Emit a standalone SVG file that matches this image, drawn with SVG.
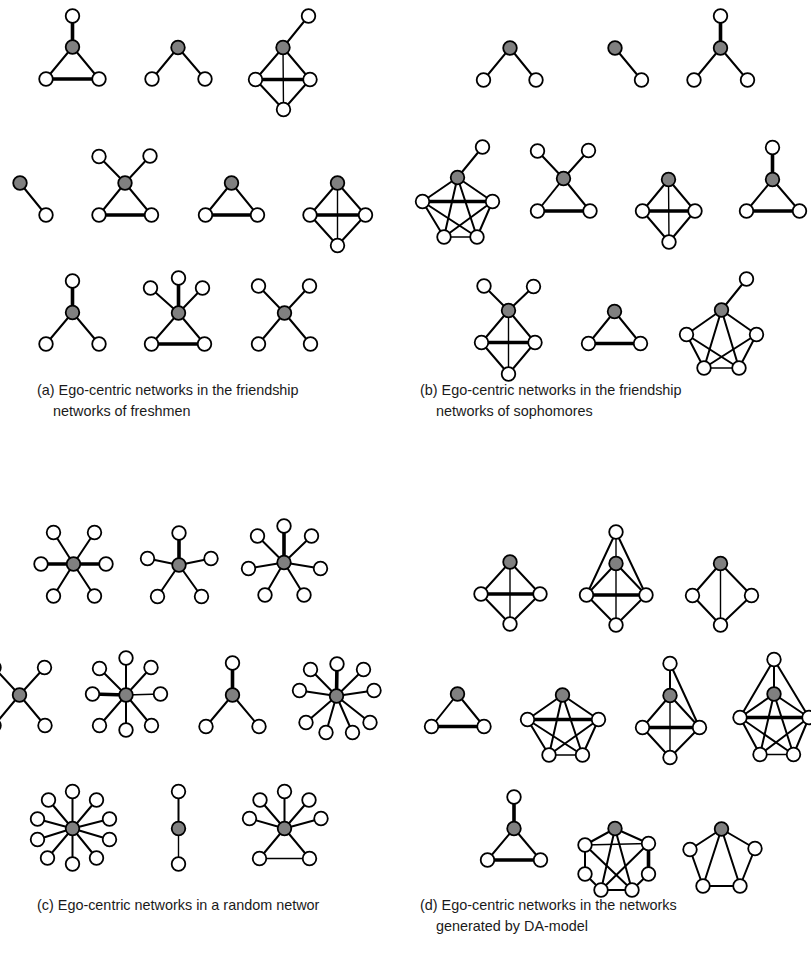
<svg xmlns="http://www.w3.org/2000/svg" width="811" height="962" viewBox="0 0 811 962">
<style>
#connectors line{stroke:#000;stroke-width:2;stroke-linecap:round}
#connectors line.k{stroke-width:3.6}
#connectors line.t{stroke-width:1.4}
circle{r:6.8;stroke:#000;stroke-width:1.8;fill:#fff}
circle.e{fill:#808080}
text{font-family:"Liberation Sans",Arial,sans-serif;font-size:14.4px;fill:#1a1a1a}
</style>
<rect width="811" height="962" fill="#fff"/>
<g id="connectors">
<!-- a1 -->
<line class="k" x1="72.5" y1="47" x2="72.5" y2="16"/><line x1="72.5" y1="47" x2="46" y2="79"/><line x1="72.5" y1="47" x2="99" y2="79"/><line class="k" x1="46" y1="79" x2="99" y2="79"/>
<!-- a2 -->
<line x1="178" y1="47.5" x2="152" y2="79"/><line x1="178" y1="47.5" x2="205" y2="79"/>
<!-- a3 -->
<line x1="283" y1="47.5" x2="308.5" y2="16"/><line x1="283" y1="47.5" x2="255.5" y2="79.5"/><line x1="283" y1="47.5" x2="310" y2="79.5"/><line class="t" x1="283" y1="47.5" x2="283.5" y2="109.5"/><line class="k" x1="255.5" y1="79.5" x2="310" y2="79.5"/><line x1="255.5" y1="79.5" x2="283.5" y2="109.5"/><line x1="310" y1="79.5" x2="283.5" y2="109.5"/>
<!-- a4 -->
<line x1="20" y1="183" x2="46" y2="215"/>
<!-- a5 -->
<line x1="125" y1="183" x2="99" y2="156.5"/><line x1="125" y1="183" x2="150" y2="156"/><line x1="125" y1="183" x2="99" y2="215"/><line x1="125" y1="183" x2="151.5" y2="215"/><line class="k" x1="99" y1="215" x2="151.5" y2="215"/>
<!-- a6 -->
<line x1="231.5" y1="183" x2="205.5" y2="215"/><line x1="231.5" y1="183" x2="257.5" y2="215"/><line class="k" x1="205.5" y1="215" x2="257.5" y2="215"/>
<!-- a7 -->
<line x1="337.5" y1="183" x2="310" y2="215"/><line x1="337.5" y1="183" x2="365.5" y2="215"/><line class="t" x1="337.5" y1="183" x2="337.5" y2="245.5"/><line class="k" x1="310" y1="215" x2="365.5" y2="215"/><line x1="310" y1="215" x2="337.5" y2="245.5"/><line x1="365.5" y1="215" x2="337.5" y2="245.5"/>
<!-- a8 -->
<line class="k" x1="72.5" y1="312.5" x2="72.5" y2="281"/><line x1="72.5" y1="312.5" x2="46" y2="344"/><line x1="72.5" y1="312.5" x2="99" y2="344"/>
<!-- a9 -->
<line class="k" x1="178.5" y1="313" x2="178.5" y2="278"/><line x1="178.5" y1="313" x2="150.5" y2="288"/><line x1="178.5" y1="313" x2="202.5" y2="288"/><line x1="178.5" y1="313" x2="151.5" y2="344"/><line x1="178.5" y1="313" x2="204.5" y2="344"/><line class="k" x1="151.5" y1="344" x2="204.5" y2="344"/>
<!-- a10 -->
<line x1="284.5" y1="313" x2="258.5" y2="286"/><line x1="284.5" y1="313" x2="309.5" y2="286"/><line x1="284.5" y1="313" x2="258.5" y2="344"/><line x1="284.5" y1="313" x2="310.5" y2="344"/>
<!-- b1 -->
<line x1="510" y1="48" x2="483.5" y2="80"/><line x1="510" y1="48" x2="536" y2="80"/>
<!-- b2 -->
<line x1="615" y1="48" x2="641.5" y2="80"/>
<!-- b3 -->
<line class="k" x1="720.5" y1="48" x2="720.5" y2="16"/><line x1="720.5" y1="48" x2="694" y2="80"/><line x1="720.5" y1="48" x2="747.5" y2="80"/>
<!-- b4 -->
<line x1="457.5" y1="177.5" x2="482.5" y2="147"/><line x1="457.5" y1="177.5" x2="422.5" y2="201.5"/><line x1="457.5" y1="177.5" x2="492.5" y2="201.5"/><line x1="457.5" y1="177.5" x2="444" y2="237"/><line x1="457.5" y1="177.5" x2="477" y2="237"/><line class="k" x1="422.5" y1="201.5" x2="492.5" y2="201.5"/><line x1="422.5" y1="201.5" x2="444" y2="237"/><line x1="422.5" y1="201.5" x2="477" y2="237"/><line x1="492.5" y1="201.5" x2="444" y2="237"/><line x1="492.5" y1="201.5" x2="477" y2="237"/><line class="t" x1="444" y1="237" x2="477" y2="237"/>
<!-- b5 -->
<line x1="563.5" y1="178.5" x2="537.5" y2="151"/><line x1="563.5" y1="178.5" x2="588.5" y2="150.5"/><line x1="563.5" y1="178.5" x2="537.5" y2="211"/><line x1="563.5" y1="178.5" x2="590" y2="211"/><line class="k" x1="537.5" y1="211" x2="590" y2="211"/>
<!-- b6 -->
<line x1="668.5" y1="179.5" x2="642.5" y2="211"/><line x1="668.5" y1="179.5" x2="695" y2="211"/><line class="t" x1="668.5" y1="179.5" x2="669" y2="242"/><line class="k" x1="642.5" y1="211" x2="695" y2="211"/><line x1="642.5" y1="211" x2="669" y2="242"/><line x1="695" y1="211" x2="669" y2="242"/>
<!-- b7 -->
<line class="k" x1="772.5" y1="179.5" x2="772.5" y2="147.5"/><line x1="772.5" y1="179.5" x2="746.5" y2="211"/><line x1="772.5" y1="179.5" x2="799.5" y2="211"/><line class="k" x1="746.5" y1="211" x2="799.5" y2="211"/>
<!-- b8 -->
<line x1="508.5" y1="310.5" x2="484" y2="286"/><line x1="508.5" y1="310.5" x2="533.5" y2="286.5"/><line x1="508.5" y1="310.5" x2="481.5" y2="342.5"/><line x1="508.5" y1="310.5" x2="535" y2="342.5"/><line class="t" x1="508.5" y1="310.5" x2="508.5" y2="374"/><line class="k" x1="481.5" y1="342.5" x2="535" y2="342.5"/><line x1="481.5" y1="342.5" x2="508.5" y2="374"/><line x1="535" y1="342.5" x2="508.5" y2="374"/>
<!-- b9 -->
<line x1="614.5" y1="311.5" x2="588.5" y2="343.5"/><line x1="614.5" y1="311.5" x2="640.5" y2="343.5"/><line class="k" x1="588.5" y1="343.5" x2="640.5" y2="343.5"/>
<!-- b10 -->
<line x1="721.5" y1="310" x2="746.5" y2="279"/><line x1="721.5" y1="310" x2="686.5" y2="334.5"/><line x1="721.5" y1="310" x2="756.5" y2="334.5"/><line x1="721.5" y1="310" x2="704" y2="368"/><line x1="721.5" y1="310" x2="739" y2="368"/><line x1="686.5" y1="334.5" x2="704" y2="368"/><line x1="686.5" y1="334.5" x2="739" y2="368"/><line x1="756.5" y1="334.5" x2="704" y2="368"/><line x1="756.5" y1="334.5" x2="739" y2="368"/><line class="t" x1="704" y1="368" x2="739" y2="368"/>
<!-- c1 -->
<line x1="73.5" y1="564" x2="53.5" y2="532.5"/><line x1="73.5" y1="564" x2="94.5" y2="532.5"/><line class="k" x1="73.5" y1="564" x2="41" y2="564"/><line class="k" x1="73.5" y1="564" x2="106" y2="564"/><line x1="73.5" y1="564" x2="53.5" y2="596"/><line x1="73.5" y1="564" x2="94.5" y2="596"/>
<!-- c2 -->
<line class="k" x1="179" y1="565" x2="179" y2="533"/><line x1="179" y1="565" x2="147.5" y2="558.5"/><line x1="179" y1="565" x2="211" y2="558.5"/><line x1="179" y1="565" x2="157.5" y2="596.5"/><line x1="179" y1="565" x2="201.5" y2="596.5"/>
<!-- c3 -->
<line class="k" x1="284" y1="562.5" x2="284" y2="526"/><line x1="284" y1="562.5" x2="257.5" y2="536"/><line x1="284" y1="562.5" x2="311.5" y2="536"/><line x1="284" y1="562.5" x2="248.5" y2="568.5"/><line x1="284" y1="562.5" x2="320.5" y2="568.5"/><line x1="284" y1="562.5" x2="265" y2="595"/><line x1="284" y1="562.5" x2="304" y2="595"/>
<!-- c4 -->
<line x1="19.5" y1="695" x2="-6" y2="667.5"/><line x1="19.5" y1="695" x2="44.5" y2="667.5"/><line x1="19.5" y1="695" x2="-6" y2="725.5"/><line x1="19.5" y1="695" x2="45" y2="725.5"/>
<!-- c5 -->
<line x1="126" y1="695" x2="126" y2="658"/><line x1="126" y1="695" x2="99.5" y2="668.5"/><line x1="126" y1="695" x2="151" y2="667.5"/><line class="k" x1="126" y1="695" x2="92.5" y2="694"/><line class="t" x1="126" y1="695" x2="160.5" y2="694"/><line x1="126" y1="695" x2="99.5" y2="725.5"/><line x1="126" y1="695" x2="126" y2="730"/><line x1="126" y1="695" x2="151.5" y2="725.5"/>
<!-- c6 -->
<line class="k" x1="232.5" y1="695" x2="232.5" y2="663"/><line x1="232.5" y1="695" x2="206" y2="726.5"/><line x1="232.5" y1="695" x2="259" y2="726.5"/>
<!-- c7 -->
<line class="k" x1="336.5" y1="696" x2="337" y2="664"/><line x1="336.5" y1="696" x2="310.5" y2="669.5"/><line x1="336.5" y1="696" x2="363.5" y2="669.5"/><line x1="336.5" y1="696" x2="299.5" y2="690.5"/><line x1="336.5" y1="696" x2="374" y2="690.5"/><line x1="336.5" y1="696" x2="306" y2="722.5"/><line x1="336.5" y1="696" x2="370" y2="722.5"/><line x1="336.5" y1="696" x2="326" y2="732.5"/><line x1="336.5" y1="696" x2="352.5" y2="732.5"/>
<!-- c8 -->
<line x1="72.5" y1="828.5" x2="72.5" y2="791.5"/><line x1="72.5" y1="828.5" x2="48.5" y2="800"/><line x1="72.5" y1="828.5" x2="96.5" y2="800"/><line x1="72.5" y1="828.5" x2="37.5" y2="819"/><line x1="72.5" y1="828.5" x2="109.5" y2="819"/><line x1="72.5" y1="828.5" x2="37.5" y2="839.5"/><line x1="72.5" y1="828.5" x2="109.5" y2="839.5"/><line x1="72.5" y1="828.5" x2="47.5" y2="858"/><line x1="72.5" y1="828.5" x2="96.5" y2="858"/><line x1="72.5" y1="828.5" x2="72.5" y2="864"/>
<!-- c9 -->
<line x1="178.5" y1="828.5" x2="178.5" y2="791.5"/><line class="t" x1="178.5" y1="828.5" x2="178.5" y2="864"/>
<!-- c10 -->
<line x1="284.5" y1="828.5" x2="284.5" y2="791.5"/><line x1="284.5" y1="828.5" x2="260" y2="800"/><line x1="284.5" y1="828.5" x2="309" y2="800"/><line x1="284.5" y1="828.5" x2="249.5" y2="818.5"/><line x1="284.5" y1="828.5" x2="321" y2="818.5"/><line x1="284.5" y1="828.5" x2="259.5" y2="858.5"/><line x1="284.5" y1="828.5" x2="309.5" y2="858.5"/><line class="t" x1="259.5" y1="858.5" x2="309.5" y2="858.5"/>
<!-- d1 -->
<line x1="510" y1="562" x2="481" y2="594"/><line x1="510" y1="562" x2="540" y2="594"/><line class="t" x1="510" y1="562" x2="510" y2="624"/><line class="k" x1="481" y1="594" x2="540" y2="594"/><line x1="481" y1="594" x2="510" y2="624"/><line x1="540" y1="594" x2="510" y2="624"/>
<!-- d2 -->
<line class="t" x1="616" y1="532" x2="616" y2="563.5"/><line x1="616" y1="532" x2="586.5" y2="595"/><line x1="616" y1="532" x2="646" y2="595"/><line x1="616" y1="563.5" x2="586.5" y2="595"/><line x1="616" y1="563.5" x2="646" y2="595"/><line class="t" x1="616" y1="563.5" x2="616" y2="625"/><line class="k" x1="586.5" y1="595" x2="646" y2="595"/><line x1="586.5" y1="595" x2="616" y2="625"/><line x1="646" y1="595" x2="616" y2="625"/>
<!-- d3 -->
<line x1="720.5" y1="563.5" x2="692.5" y2="595.5"/><line x1="720.5" y1="563.5" x2="751.5" y2="595.5"/><line class="t" x1="720.5" y1="563.5" x2="720.5" y2="625"/><line x1="692.5" y1="595.5" x2="720.5" y2="625"/><line x1="751.5" y1="595.5" x2="720.5" y2="625"/>
<!-- d4 -->
<line x1="457.5" y1="694" x2="431.5" y2="726.5"/><line x1="457.5" y1="694" x2="484" y2="726.5"/><line class="k" x1="431.5" y1="726.5" x2="484" y2="726.5"/>
<!-- d5 -->
<line x1="562.5" y1="695" x2="527.5" y2="719.5"/><line x1="562.5" y1="695" x2="598.5" y2="719.5"/><line x1="562.5" y1="695" x2="549" y2="755"/><line x1="562.5" y1="695" x2="582.5" y2="755"/><line class="k" x1="527.5" y1="719.5" x2="598.5" y2="719.5"/><line x1="527.5" y1="719.5" x2="549" y2="755"/><line x1="527.5" y1="719.5" x2="582.5" y2="755"/><line x1="598.5" y1="719.5" x2="549" y2="755"/><line x1="598.5" y1="719.5" x2="582.5" y2="755"/><line class="t" x1="549" y1="755" x2="582.5" y2="755"/>
<!-- d6 -->
<line x1="670" y1="663.5" x2="670" y2="695.5"/><line x1="670" y1="663.5" x2="699.5" y2="727.5"/><line x1="670" y1="695.5" x2="642.5" y2="727.5"/><line x1="670" y1="695.5" x2="699.5" y2="727.5"/><line class="t" x1="670" y1="695.5" x2="670" y2="757.5"/><line class="k" x1="642.5" y1="727.5" x2="699.5" y2="727.5"/><line x1="642.5" y1="727.5" x2="670" y2="757.5"/><line x1="699.5" y1="727.5" x2="670" y2="757.5"/>
<!-- d7 -->
<line x1="774" y1="659.5" x2="774" y2="694"/><line x1="774" y1="659.5" x2="740" y2="717.5"/><line x1="774" y1="659.5" x2="809" y2="717.5"/><line x1="774" y1="694" x2="740" y2="717.5"/><line x1="774" y1="694" x2="809" y2="717.5"/><line x1="774" y1="694" x2="760" y2="754.5"/><line x1="774" y1="694" x2="793.5" y2="754.5"/><line class="k" x1="740" y1="717.5" x2="809" y2="717.5"/><line x1="740" y1="717.5" x2="760" y2="754.5"/><line x1="740" y1="717.5" x2="793.5" y2="754.5"/><line x1="809" y1="717.5" x2="760" y2="754.5"/><line x1="809" y1="717.5" x2="793.5" y2="754.5"/><line class="t" x1="760" y1="754.5" x2="793.5" y2="754.5"/>
<!-- d8 -->
<line class="k" x1="514" y1="828.5" x2="514" y2="797"/><line x1="514" y1="828.5" x2="487.5" y2="860"/><line x1="514" y1="828.5" x2="540.5" y2="860"/><line class="k" x1="487.5" y1="860" x2="540.5" y2="860"/>
<!-- d9 -->
<line x1="615" y1="828.5" x2="585" y2="845"/><line x1="615" y1="828.5" x2="648.5" y2="843.5"/><line class="t" x1="585" y1="845" x2="648.5" y2="843.5"/><line x1="585" y1="845" x2="585" y2="874"/><line class="k" x1="648.5" y1="843.5" x2="648.5" y2="874"/><line x1="585" y1="874" x2="601" y2="890"/><line x1="648.5" y1="874" x2="632" y2="890"/><line x1="601" y1="890" x2="632" y2="890"/><line x1="615" y1="828.5" x2="601" y2="890"/><line x1="615" y1="828.5" x2="632" y2="890"/><line x1="585" y1="845" x2="632" y2="890"/><line x1="648.5" y1="843.5" x2="601" y2="890"/>
<!-- d10 -->
<line x1="721.5" y1="829" x2="690" y2="849.5"/><line x1="721.5" y1="829" x2="755" y2="848.5"/><line x1="721.5" y1="829" x2="703" y2="886"/><line x1="721.5" y1="829" x2="740" y2="886"/><line x1="690" y1="849.5" x2="703" y2="886"/><line x1="755" y1="848.5" x2="740" y2="886"/><line x1="703" y1="886" x2="740" y2="886"/>
</g>
<!-- panel a nodes -->
<g id="a1-e"><circle class="e" cx="72.5" cy="47"/></g><g id="a1-n1"><circle cx="72.5" cy="16"/></g><g id="a1-n2"><circle cx="46" cy="79"/></g><g id="a1-n3"><circle cx="99" cy="79"/></g>
<g id="a2-e"><circle class="e" cx="178" cy="47.5"/></g><g id="a2-n1"><circle cx="152" cy="79"/></g><g id="a2-n2"><circle cx="205" cy="79"/></g>
<g id="a3-e"><circle class="e" cx="283" cy="47.5"/></g><g id="a3-n1"><circle cx="308.5" cy="16"/></g><g id="a3-n2"><circle cx="255.5" cy="79.5"/></g><g id="a3-n3"><circle cx="310" cy="79.5"/></g><g id="a3-n4"><circle cx="283.5" cy="109.5"/></g>
<g id="a4-e"><circle class="e" cx="20" cy="183"/></g><g id="a4-n1"><circle cx="46" cy="215"/></g>
<g id="a5-e"><circle class="e" cx="125" cy="183"/></g><g id="a5-n1"><circle cx="99" cy="156.5"/></g><g id="a5-n2"><circle cx="150" cy="156"/></g><g id="a5-n3"><circle cx="99" cy="215"/></g><g id="a5-n4"><circle cx="151.5" cy="215"/></g>
<g id="a6-e"><circle class="e" cx="231.5" cy="183"/></g><g id="a6-n1"><circle cx="205.5" cy="215"/></g><g id="a6-n2"><circle cx="257.5" cy="215"/></g>
<g id="a7-e"><circle class="e" cx="337.5" cy="183"/></g><g id="a7-n1"><circle cx="310" cy="215"/></g><g id="a7-n2"><circle cx="365.5" cy="215"/></g><g id="a7-n3"><circle cx="337.5" cy="245.5"/></g>
<g id="a8-e"><circle class="e" cx="72.5" cy="312.5"/></g><g id="a8-n1"><circle cx="72.5" cy="281"/></g><g id="a8-n2"><circle cx="46" cy="344"/></g><g id="a8-n3"><circle cx="99" cy="344"/></g>
<g id="a9-e"><circle class="e" cx="178.5" cy="313"/></g><g id="a9-n1"><circle cx="178.5" cy="278"/></g><g id="a9-n2"><circle cx="150.5" cy="288"/></g><g id="a9-n3"><circle cx="202.5" cy="288"/></g><g id="a9-n4"><circle cx="151.5" cy="344"/></g><g id="a9-n5"><circle cx="204.5" cy="344"/></g>
<g id="a10-e"><circle class="e" cx="284.5" cy="313"/></g><g id="a10-n1"><circle cx="258.5" cy="286"/></g><g id="a10-n2"><circle cx="309.5" cy="286"/></g><g id="a10-n3"><circle cx="258.5" cy="344"/></g><g id="a10-n4"><circle cx="310.5" cy="344"/></g>
<!-- panel b nodes -->
<g id="b1-e"><circle class="e" cx="510" cy="48"/></g><g id="b1-n1"><circle cx="483.5" cy="80"/></g><g id="b1-n2"><circle cx="536" cy="80"/></g>
<g id="b2-e"><circle class="e" cx="615" cy="48"/></g><g id="b2-n1"><circle cx="641.5" cy="80"/></g>
<g id="b3-e"><circle class="e" cx="720.5" cy="48"/></g><g id="b3-n1"><circle cx="720.5" cy="16"/></g><g id="b3-n2"><circle cx="694" cy="80"/></g><g id="b3-n3"><circle cx="747.5" cy="80"/></g>
<g id="b4-e"><circle class="e" cx="457.5" cy="177.5"/></g><g id="b4-n1"><circle cx="482.5" cy="147"/></g><g id="b4-n2"><circle cx="422.5" cy="201.5"/></g><g id="b4-n3"><circle cx="492.5" cy="201.5"/></g><g id="b4-n4"><circle cx="444" cy="237"/></g><g id="b4-n5"><circle cx="477" cy="237"/></g>
<g id="b5-e"><circle class="e" cx="563.5" cy="178.5"/></g><g id="b5-n1"><circle cx="537.5" cy="151"/></g><g id="b5-n2"><circle cx="588.5" cy="150.5"/></g><g id="b5-n3"><circle cx="537.5" cy="211"/></g><g id="b5-n4"><circle cx="590" cy="211"/></g>
<g id="b6-e"><circle class="e" cx="668.5" cy="179.5"/></g><g id="b6-n1"><circle cx="642.5" cy="211"/></g><g id="b6-n2"><circle cx="695" cy="211"/></g><g id="b6-n3"><circle cx="669" cy="242"/></g>
<g id="b7-e"><circle class="e" cx="772.5" cy="179.5"/></g><g id="b7-n1"><circle cx="772.5" cy="147.5"/></g><g id="b7-n2"><circle cx="746.5" cy="211"/></g><g id="b7-n3"><circle cx="799.5" cy="211"/></g>
<g id="b8-e"><circle class="e" cx="508.5" cy="310.5"/></g><g id="b8-n1"><circle cx="484" cy="286"/></g><g id="b8-n2"><circle cx="533.5" cy="286.5"/></g><g id="b8-n3"><circle cx="481.5" cy="342.5"/></g><g id="b8-n4"><circle cx="535" cy="342.5"/></g><g id="b8-n5"><circle cx="508.5" cy="374"/></g>
<g id="b9-e"><circle class="e" cx="614.5" cy="311.5"/></g><g id="b9-n1"><circle cx="588.5" cy="343.5"/></g><g id="b9-n2"><circle cx="640.5" cy="343.5"/></g>
<g id="b10-e"><circle class="e" cx="721.5" cy="310"/></g><g id="b10-n1"><circle cx="746.5" cy="279"/></g><g id="b10-n2"><circle cx="686.5" cy="334.5"/></g><g id="b10-n3"><circle cx="756.5" cy="334.5"/></g><g id="b10-n4"><circle cx="704" cy="368"/></g><g id="b10-n5"><circle cx="739" cy="368"/></g>
<!-- panel c nodes -->
<g id="c1-e"><circle class="e" cx="73.5" cy="564"/></g><g id="c1-n1"><circle cx="53.5" cy="532.5"/></g><g id="c1-n2"><circle cx="94.5" cy="532.5"/></g><g id="c1-n3"><circle cx="41" cy="564"/></g><g id="c1-n4"><circle cx="106" cy="564"/></g><g id="c1-n5"><circle cx="53.5" cy="596"/></g><g id="c1-n6"><circle cx="94.5" cy="596"/></g>
<g id="c2-e"><circle class="e" cx="179" cy="565"/></g><g id="c2-n1"><circle cx="179" cy="533"/></g><g id="c2-n2"><circle cx="147.5" cy="558.5"/></g><g id="c2-n3"><circle cx="211" cy="558.5"/></g><g id="c2-n4"><circle cx="157.5" cy="596.5"/></g><g id="c2-n5"><circle cx="201.5" cy="596.5"/></g>
<g id="c3-e"><circle class="e" cx="284" cy="562.5"/></g><g id="c3-n1"><circle cx="284" cy="526"/></g><g id="c3-n2"><circle cx="257.5" cy="536"/></g><g id="c3-n3"><circle cx="311.5" cy="536"/></g><g id="c3-n4"><circle cx="248.5" cy="568.5"/></g><g id="c3-n5"><circle cx="320.5" cy="568.5"/></g><g id="c3-n6"><circle cx="265" cy="595"/></g><g id="c3-n7"><circle cx="304" cy="595"/></g>
<g id="c4-e"><circle class="e" cx="19.5" cy="695"/></g><g id="c4-n1"><circle cx="-6" cy="667.5"/></g><g id="c4-n2"><circle cx="44.5" cy="667.5"/></g><g id="c4-n3"><circle cx="-6" cy="725.5"/></g><g id="c4-n4"><circle cx="45" cy="725.5"/></g>
<g id="c5-e"><circle class="e" cx="126" cy="695"/></g><g id="c5-n1"><circle cx="126" cy="658"/></g><g id="c5-n2"><circle cx="99.5" cy="668.5"/></g><g id="c5-n3"><circle cx="151" cy="667.5"/></g><g id="c5-n4"><circle cx="92.5" cy="694"/></g><g id="c5-n5"><circle cx="160.5" cy="694"/></g><g id="c5-n6"><circle cx="99.5" cy="725.5"/></g><g id="c5-n7"><circle cx="126" cy="730"/></g><g id="c5-n8"><circle cx="151.5" cy="725.5"/></g>
<g id="c6-e"><circle class="e" cx="232.5" cy="695"/></g><g id="c6-n1"><circle cx="232.5" cy="663"/></g><g id="c6-n2"><circle cx="206" cy="726.5"/></g><g id="c6-n3"><circle cx="259" cy="726.5"/></g>
<g id="c7-e"><circle class="e" cx="336.5" cy="696"/></g><g id="c7-n1"><circle cx="337" cy="664"/></g><g id="c7-n2"><circle cx="310.5" cy="669.5"/></g><g id="c7-n3"><circle cx="363.5" cy="669.5"/></g><g id="c7-n4"><circle cx="299.5" cy="690.5"/></g><g id="c7-n5"><circle cx="374" cy="690.5"/></g><g id="c7-n6"><circle cx="306" cy="722.5"/></g><g id="c7-n7"><circle cx="370" cy="722.5"/></g><g id="c7-n8"><circle cx="326" cy="732.5"/></g><g id="c7-n9"><circle cx="352.5" cy="732.5"/></g>
<g id="c8-e"><circle class="e" cx="72.5" cy="828.5"/></g><g id="c8-n1"><circle cx="72.5" cy="791.5"/></g><g id="c8-n2"><circle cx="48.5" cy="800"/></g><g id="c8-n3"><circle cx="96.5" cy="800"/></g><g id="c8-n4"><circle cx="37.5" cy="819"/></g><g id="c8-n5"><circle cx="109.5" cy="819"/></g><g id="c8-n6"><circle cx="37.5" cy="839.5"/></g><g id="c8-n7"><circle cx="109.5" cy="839.5"/></g><g id="c8-n8"><circle cx="47.5" cy="858"/></g><g id="c8-n9"><circle cx="96.5" cy="858"/></g><g id="c8-n10"><circle cx="72.5" cy="864"/></g>
<g id="c9-e"><circle class="e" cx="178.5" cy="828.5"/></g><g id="c9-n1"><circle cx="178.5" cy="791.5"/></g><g id="c9-n2"><circle cx="178.5" cy="864"/></g>
<g id="c10-e"><circle class="e" cx="284.5" cy="828.5"/></g><g id="c10-n1"><circle cx="284.5" cy="791.5"/></g><g id="c10-n2"><circle cx="260" cy="800"/></g><g id="c10-n3"><circle cx="309" cy="800"/></g><g id="c10-n4"><circle cx="249.5" cy="818.5"/></g><g id="c10-n5"><circle cx="321" cy="818.5"/></g><g id="c10-n6"><circle cx="259.5" cy="858.5"/></g><g id="c10-n7"><circle cx="309.5" cy="858.5"/></g>
<!-- panel d nodes -->
<g id="d1-e"><circle class="e" cx="510" cy="562"/></g><g id="d1-n1"><circle cx="481" cy="594"/></g><g id="d1-n2"><circle cx="540" cy="594"/></g><g id="d1-n3"><circle cx="510" cy="624"/></g>
<g id="d2-e"><circle class="e" cx="616" cy="563.5"/></g><g id="d2-n1"><circle cx="616" cy="532"/></g><g id="d2-n2"><circle cx="586.5" cy="595"/></g><g id="d2-n3"><circle cx="646" cy="595"/></g><g id="d2-n4"><circle cx="616" cy="625"/></g>
<g id="d3-e"><circle class="e" cx="720.5" cy="563.5"/></g><g id="d3-n1"><circle cx="692.5" cy="595.5"/></g><g id="d3-n2"><circle cx="751.5" cy="595.5"/></g><g id="d3-n3"><circle cx="720.5" cy="625"/></g>
<g id="d4-e"><circle class="e" cx="457.5" cy="694"/></g><g id="d4-n1"><circle cx="431.5" cy="726.5"/></g><g id="d4-n2"><circle cx="484" cy="726.5"/></g>
<g id="d5-e"><circle class="e" cx="562.5" cy="695"/></g><g id="d5-n1"><circle cx="527.5" cy="719.5"/></g><g id="d5-n2"><circle cx="598.5" cy="719.5"/></g><g id="d5-n3"><circle cx="549" cy="755"/></g><g id="d5-n4"><circle cx="582.5" cy="755"/></g>
<g id="d6-e"><circle class="e" cx="670" cy="695.5"/></g><g id="d6-n1"><circle cx="670" cy="663.5"/></g><g id="d6-n2"><circle cx="642.5" cy="727.5"/></g><g id="d6-n3"><circle cx="699.5" cy="727.5"/></g><g id="d6-n4"><circle cx="670" cy="757.5"/></g>
<g id="d7-e"><circle class="e" cx="774" cy="694"/></g><g id="d7-n1"><circle cx="774" cy="659.5"/></g><g id="d7-n2"><circle cx="740" cy="717.5"/></g><g id="d7-n3"><circle cx="809" cy="717.5"/></g><g id="d7-n4"><circle cx="760" cy="754.5"/></g><g id="d7-n5"><circle cx="793.5" cy="754.5"/></g>
<g id="d8-e"><circle class="e" cx="514" cy="828.5"/></g><g id="d8-n1"><circle cx="514" cy="797"/></g><g id="d8-n2"><circle cx="487.5" cy="860"/></g><g id="d8-n3"><circle cx="540.5" cy="860"/></g>
<g id="d9-e"><circle class="e" cx="615" cy="828.5"/></g><g id="d9-n1"><circle cx="585" cy="845"/></g><g id="d9-n2"><circle cx="648.5" cy="843.5"/></g><g id="d9-n3"><circle cx="585" cy="874"/></g><g id="d9-n4"><circle cx="648.5" cy="874"/></g><g id="d9-n5"><circle cx="601" cy="890"/></g><g id="d9-n6"><circle cx="632" cy="890"/></g>
<g id="d10-e"><circle class="e" cx="721.5" cy="829"/></g><g id="d10-n1"><circle cx="690" cy="849.5"/></g><g id="d10-n2"><circle cx="755" cy="848.5"/></g><g id="d10-n3"><circle cx="703" cy="886"/></g><g id="d10-n4"><circle cx="740" cy="886"/></g>
<!-- captions -->
<g id="captions">
<text x="37" y="395">(a) Ego-centric networks in the friendship</text>
<text x="53" y="416">networks of freshmen</text>
<text x="420" y="395">(b) Ego-centric networks in the friendship</text>
<text x="436" y="416">networks of sophomores</text>
<text x="37" y="910">(c) Ego-centric networks in a random networ</text>
<text x="420" y="910">(d) Ego-centric networks in the networks</text>
<text x="436" y="931">generated by DA-model</text>
</g>
</svg>
